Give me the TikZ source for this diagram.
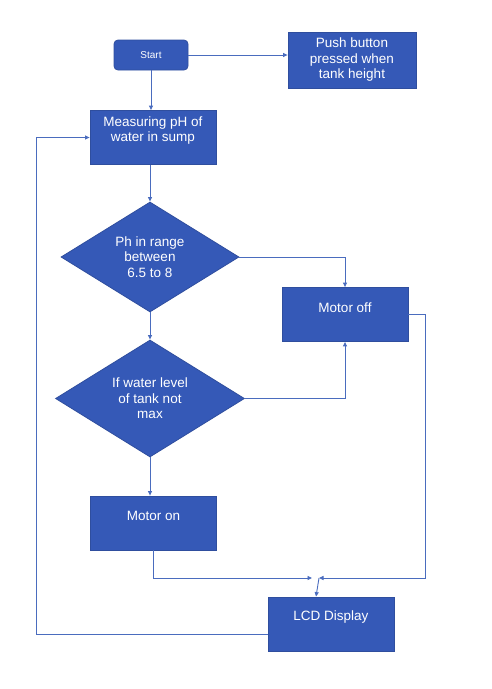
\documentclass[tikz,border=0pt]{standalone}
\usepackage{fontspec}
\setmainfont{Liberation Sans}
\usetikzlibrary{shapes.geometric,arrows.meta}

\definecolor{boxblue}{HTML}{3559B7}
\definecolor{edgeblue}{HTML}{2F4E9E}
\definecolor{lineblue}{HTML}{4A6CBE}

\tikzset{
        blk/.style={draw=edgeblue, fill=boxblue, line width=0.8pt, inner sep=0pt},
        txt/.style={text=white, align=center, font=\fontsize{13.5}{15.5}\selectfont},
        flow/.style={draw=lineblue, line width=0.9pt, -{Triangle[length=4.5pt,width=4pt]}},
}

\NewDocumentCommand{\procbox}{mmm}{%
\node[blk, minimum width=126pt, minimum height=54pt] (#1) at (#2) {};
\node[txt] (#1txt) at ([yshift=7pt]#1.center) {#3};
}

\begin{document}
\begin{tikzpicture}[x=1pt,y=-1pt]
        \useasboundingbox (0,0) rectangle (491,689);

        \node[blk, txt, rounded corners=4pt, minimum width=74pt, minimum height=30pt,
                font=\fontsize{10}{12}\selectfont] (start) at (151,55) {Start};
        \node[blk, txt, minimum width=128pt, minimum height=56pt] (push) at (352,60)
                {Push button\\pressed when\\tank height};
        \procbox{measure}{153,137.5}{Measuring pH of\\water in sump}
        \node[blk, txt, diamond, minimum width=178pt, minimum height=110pt] (range) at (150,257)
                {Ph in range\\between\\6.5 to 8};
        \procbox{motoroff}{345,314.5}{Motor off}
        \node[blk, txt, diamond, minimum width=189pt, minimum height=117pt] (level) at (150,398.5)
                {If water level\\of tank not\\max};
        \procbox{motoron}{153.5,523}{Motor on}
        \procbox{lcd}{331,624}{LCD Display}
        \coordinate (join) at (319,578);

        % Main flow.
        \draw[flow] (start.south) -- (start.south |- measure.north);
        \draw[flow] (start.east) -- (start.east -| push.west);
        \draw[flow] (range.north |- measure.south) -- (range.north);
        \draw[flow] (range.south) -- (level.north);
        \draw[flow] (level.south) -- (level.south |- motoron.north);
        % Branches to motor off.
        \draw[flow] (range.east) -| (motoroff.north);
        \draw[flow] (level.east) -| (motoroff.south);
        % Into the display and back.
        \draw[flow] (motoron.south) |- ([xshift=-7pt]join);
        \draw[flow] (motoroff.east) -- ++(17,0) |- (join);
        \draw[flow] (join) -- ([xshift=-15pt]lcd.north);
        \draw[flow] ([yshift=-10pt]lcd.west) -- ++(-231,0) |- (measure.west);
\end{tikzpicture}
\end{document}
